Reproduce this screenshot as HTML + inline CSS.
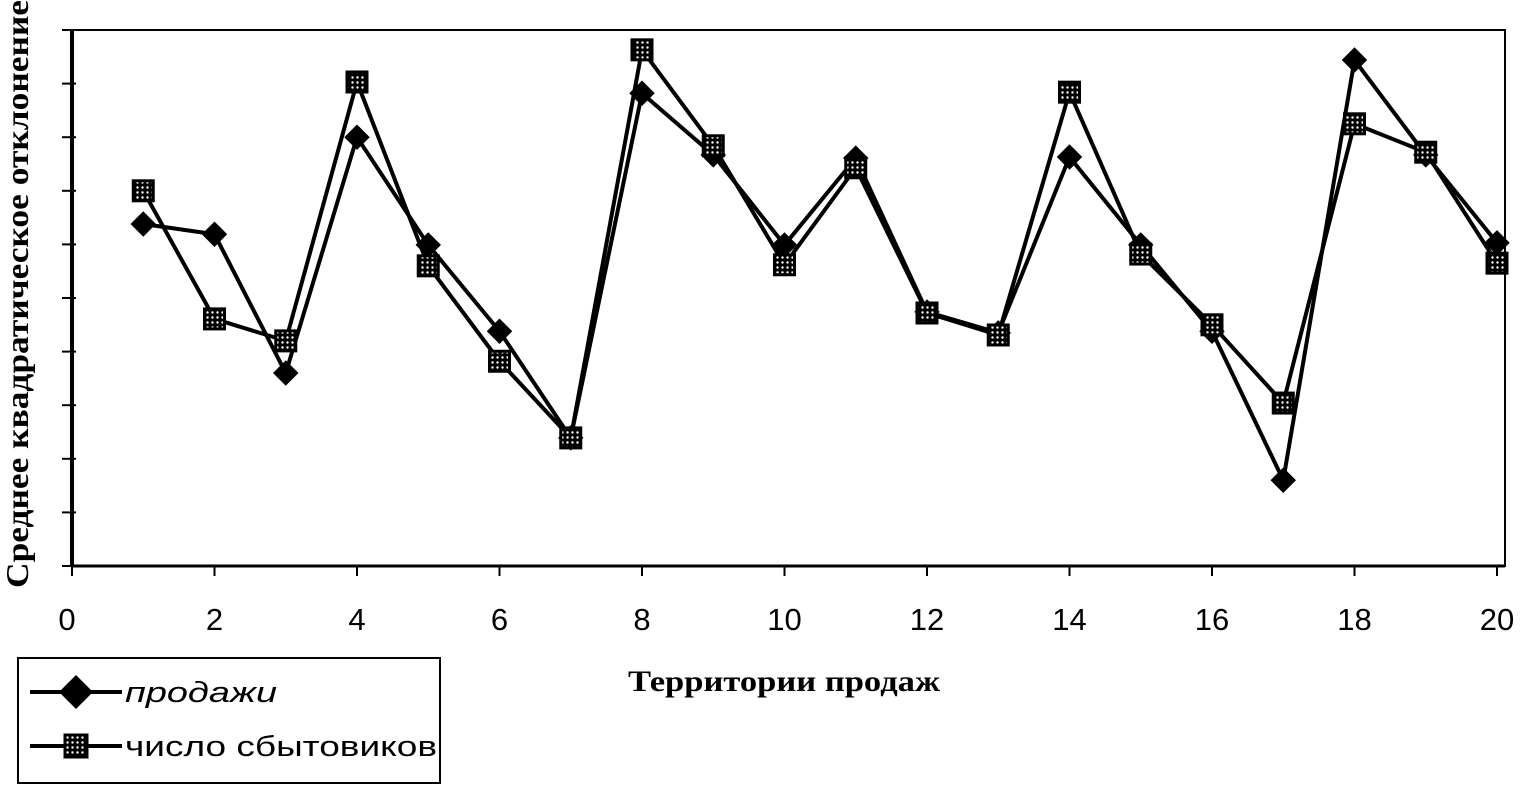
<!DOCTYPE html>
<html><head><meta charset="utf-8"><style>
body{margin:0;background:#fff;}
svg{display:block;}
</style></head><body>
<svg width="1529" height="805" id="chart">
<defs>
<pattern id="dots" width="5" height="5" patternUnits="userSpaceOnUse"><rect width="5" height="5" fill="#000"/><circle cx="2.5" cy="2.5" r="1.2" fill="#fff"/></pattern>
</defs>
<text transform="translate(28,294) rotate(-90)" text-anchor="middle" font-family="Liberation Serif, serif" font-weight="bold" font-size="32" textLength="588" lengthAdjust="spacingAndGlyphs">Среднее квадратическое отклонение</text>
<text x="628" y="691" font-family="Liberation Serif, serif" font-weight="bold" font-size="30" textLength="312" lengthAdjust="spacingAndGlyphs">Территории продаж</text>
<g id="legend">
<rect x="18" y="658" width="422" height="125" fill="none" stroke="#000" stroke-width="2"/>
<line x1="30" y1="692" x2="122" y2="692" stroke="#000" stroke-width="4"/>
<rect x="64" y="680" width="24" height="24" transform="rotate(45 76 692)" fill="#000"/>
<text x="125" y="702" font-family="Liberation Sans, sans-serif" font-style="italic" font-size="29" textLength="152" lengthAdjust="spacingAndGlyphs">продажи</text>
<line x1="30" y1="746" x2="122" y2="746" stroke="#000" stroke-width="4"/>
<rect x="65" y="735" width="22" height="22" fill="url(#dots)" stroke="#000" stroke-width="3"/>
<text x="125" y="756" font-family="Liberation Sans, sans-serif" font-size="29" textLength="312" lengthAdjust="spacingAndGlyphs">число сбытовиков</text>
</g>
</svg>
<script>
const categories=[1,2,3,4,5,6,7,8,9,10,11,12,13,14,15,16,17,18,19,20];
const sales=[6.38,6.19,3.6,8.0,5.99,4.38,2.39,8.82,7.67,5.99,7.61,4.74,4.35,7.63,5.99,4.38,1.6,9.44,7.67,6.03];
const salespeople=[7.0,4.61,4.2,9.03,5.6,3.82,2.39,9.63,7.84,5.62,7.43,4.72,4.31,8.84,5.82,4.5,3.04,8.25,7.72,5.65];
const xTicks=[0,2,4,6,8,10,12,14,16,18,20];
const yTicks=[0,1,2,3,4,5,6,7,8,9,10];
const NS='http://www.w3.org/2000/svg';
const svg=document.getElementById('chart');
const X0=72,X1=1497,Y0=566,Y1=30;
const x=v=>X0+(v-0)/(20-0)*(X1-X0);
const y=v=>Y0-(v-0)/(10-0)*(Y0-Y1);
function mk(t,a){const e=document.createElementNS(NS,t);for(const k in a)e.setAttribute(k,a[k]);svg.appendChild(e);return e;}
let e;
e=mk('path',{d:`M${X0} ${Y1} H1505 V${Y0} H${X0}`,fill:'none',stroke:'#000','stroke-width':2});


e=mk('line',{x1:X0,y1:Y1,x2:X0,y2:Y0,stroke:'#000','stroke-width':4});


e=mk('line',{x1:X0,y1:Y0,x2:1505,y2:Y0,stroke:'#000','stroke-width':3});


yTicks.forEach(t=>{e=mk('line',{x1:X0-10,x2:X0+4,y1:y(t),y2:y(t),stroke:'#000','stroke-width':2});

});
xTicks.forEach(t=>{e=mk('line',{x1:x(t),x2:x(t),y1:Y0,y2:Y0+10,stroke:'#000','stroke-width':2});


e=mk('text',{x:x(t)-(t===0?5:0),y:630,'text-anchor':'middle','font-family':'Liberation Sans, sans-serif','font-size':31});e.textContent=t;

});
function series(vals,name){
 e=mk('polyline',{points:vals.map((v,i)=>x(categories[i])+','+y(v)).join(' '),fill:'none',stroke:'#000','stroke-width':4,'stroke-linejoin':'round'});
 
 
}
series(sales,'sales');
series(salespeople,'salespeople');
sales.forEach((v,i)=>{const cx=x(categories[i]),cy=y(v);
 e=mk('rect',{x:cx-9,y:cy-9,width:18,height:18,fill:'#000',transform:`rotate(45 ${cx} ${cy})`});
 
 });
salespeople.forEach((v,i)=>{const cx=x(categories[i]),cy=y(v);
 e=mk('rect',{x:cx-10,y:cy-10,width:20,height:20,fill:'url(#dots)',stroke:'#000','stroke-width':3});
 
 });
</script>
</body></html>
